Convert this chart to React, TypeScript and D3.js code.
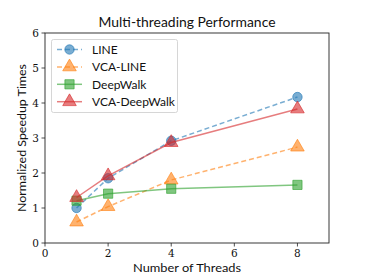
import React from "react";
import * as d3 from "d3";

const threads = [1, 2, 4, 8];
const lineVals = [1.0, 1.85, 2.92, 4.17];
const vcaLineVals = [0.6, 1.04, 1.8, 2.74];
const deepWalkVals = [1.21, 1.41, 1.55, 1.66];
const vcaDeepWalkVals = [1.3, 1.92, 2.87, 3.83];
const xTicks = [0, 2, 4, 6, 8];
const yTicks = [0, 1, 2, 3, 4, 5, 6];

const seriesNames = ["LINE", "VCA-LINE", "DeepWalk", "VCA-DeepWalk"];
const seriesColors = ["#1f77b4", "#ff7f0e", "#2ca02c", "#d62728"];
const seriesDash = ["5,3", "5,3", null, null];
const seriesMarker = ["circle", "triangle", "square", "triangle"];
const seriesValues = [lineVals, vcaLineVals, deepWalkVals, vcaDeepWalkVals];

const W = 365, H = 274;
const m = { left: 45, right: 36, top: 33, bottom: 31 };

function Marker({ type, x, y, color }: { type: string; x: number; y: number; color: string }) {
  const size = type === "circle" ? 70 : type === "square" ? 85 : 80;
  const sym = type === "circle" ? d3.symbolCircle : type === "square" ? d3.symbolSquare : d3.symbolTriangle;
  const path = d3.symbol().type(sym).size(size)() as string;
  return <path d={path} transform={`translate(${x},${y})`} fill={color} fillOpacity={0.6} stroke={color} strokeOpacity={0.6} strokeWidth={1} />;
}

export default function App() {
  const x = d3.scaleLinear().domain([0, 9]).range([m.left, W - m.right]);
  const y = d3.scaleLinear().domain([0, 6]).range([H - m.bottom, m.top]);
  const line = d3.line<number>().x((_, i) => x(threads[i])).y((v) => y(v));
  const sans = "Lato, 'Open Sans', sans-serif";
  const serif = "'DejaVu Serif', 'Liberation Serif', serif";
  const legX = 51.5, legY = 39.5;
  const rowY = (i: number) => legY + 10 + i * 17.4;
  return (
    <svg width={W} height={H} style={{ position: "absolute", left: 0, top: 0, background: "#fff" }}>
      <rect x={0} y={0} width={W} height={H} fill="#fff" />
      {seriesValues.map((vals, s) => (
        <g key={s}>
          <path d={line(vals) as string} fill="none" stroke={seriesColors[s]} strokeOpacity={0.6} strokeWidth={1.5}
            strokeDasharray={seriesDash[s] || undefined} />
          {vals.map((v, i) => (
            <Marker key={i} type={seriesMarker[s]} x={x(threads[i])} y={y(v)} color={seriesColors[s]} />
          ))}
        </g>
      ))}
      <rect x={m.left} y={m.top} width={W - m.left - m.right} height={H - m.top - m.bottom} fill="none" stroke="#222" strokeWidth={0.9} />
      {xTicks.map((t) => (
        <g key={t}>
          <line x1={x(t)} x2={x(t)} y1={y(0)} y2={y(0) + 3.5} stroke="#222" strokeWidth={0.8} />
          <text x={x(t)} y={y(0) + 13.5} textAnchor="middle" fontFamily={serif} fontSize={10.5} fill="#111">{t}</text>
        </g>
      ))}
      {yTicks.map((t) => (
        <g key={t}>
          <line x1={m.left - 3.5} x2={m.left} y1={y(t)} y2={y(t)} stroke="#222" strokeWidth={0.8} />
          <text x={m.left - 6} y={y(t) + 4} textAnchor="end" fontFamily={serif} fontSize={10.5} fill="#111">{t}</text>
        </g>
      ))}
      <text x={(m.left + W - m.right) / 2} y={27} textAnchor="middle" fontFamily={sans} fontSize={13} fill="#111" textLength={177} lengthAdjust="spacingAndGlyphs">Multi-threading Performance</text>
      <text x={(m.left + W - m.right) / 2} y={271.5} textAnchor="middle" fontFamily={sans} fontSize={11.5} fill="#111" textLength={108} lengthAdjust="spacingAndGlyphs">Number of Threads</text>
      <text transform={`translate(26,${(m.top + H - m.bottom) / 2}) rotate(-90)`} textAnchor="middle" fontFamily={sans} fontSize={12} fill="#111" textLength={148} lengthAdjust="spacingAndGlyphs">Normalized Speedup Times</text>
      <rect x={legX} y={legY} width={126} height={73} rx={2} fill="#fff" fillOpacity={0.8} stroke="#ccc" strokeWidth={0.8} />
      {seriesNames.map((name, s) => (
        <g key={name}>
          <line x1={57} x2={82} y1={rowY(s)} y2={rowY(s)} stroke={seriesColors[s]} strokeOpacity={0.6} strokeWidth={1.5}
            strokeDasharray={seriesDash[s] || undefined} />
          <Marker type={seriesMarker[s]} x={69.5} y={rowY(s)} color={seriesColors[s]} />
          <text x={92} y={rowY(s) + 4.5} fontFamily={sans} fontSize={12} fill="#111">{name}</text>
        </g>
      ))}
    </svg>
  );
}
